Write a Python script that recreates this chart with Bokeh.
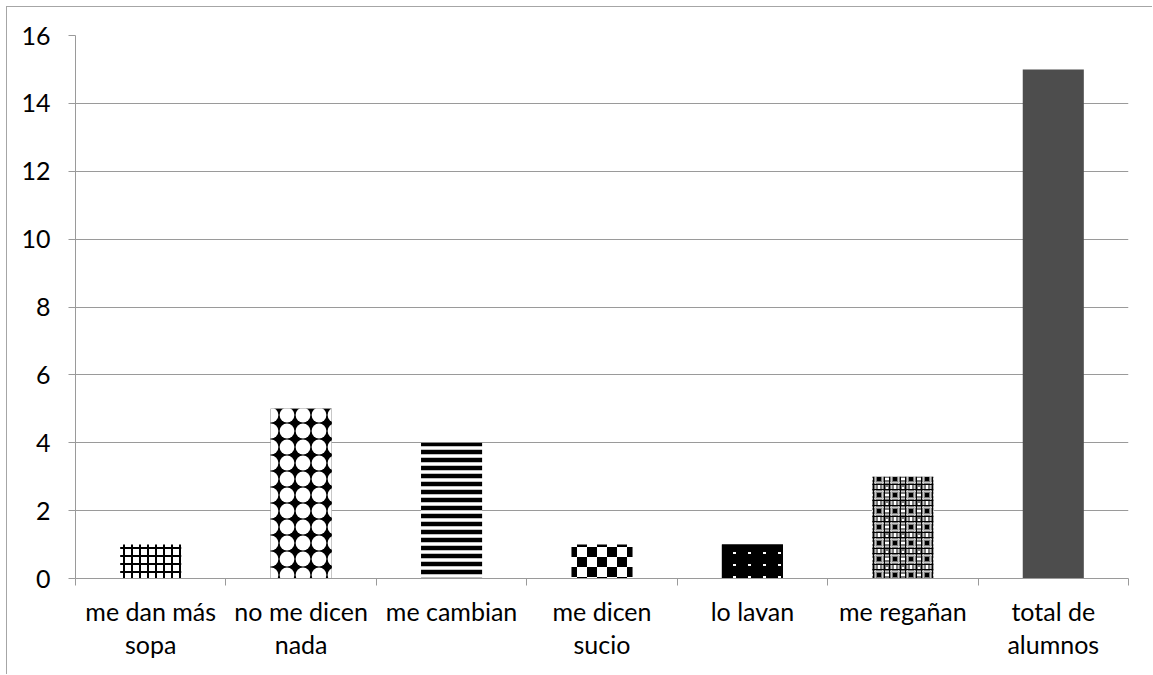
import base64
from bokeh.plotting import figure
from bokeh.models import FixedTicker, ImageURLTexture, ColumnDataSource
from bokeh.core.properties import value
from bokeh.embed import file_html
from bokeh.resources import INLINE

categories = ["me dan más sopa", "no me dicen nada", "me cambian", "me dicen sucio",
              "lo lavan", "me regañan", "total de alumnos"]
tick_labels = ["me dan más\nsopa", "no me dicen\nnada", "me cambian", "me dicen\nsucio",
               "lo lavan", "me regañan", "total de\nalumnos"]
values = [1, 5, 4, 1, 1, 3, 15]
y_ticks = [0, 2, 4, 6, 8, 10, 12, 14, 16]

FONT = "Lato"
GRID = "#9a9a9a"


def svg_tex(w, h, body):
    svg = (f'<svg xmlns="http://www.w3.org/2000/svg" width="{w}" height="{h}" '
           f'viewBox="0 0 {w} {h}" shape-rendering="crispEdges">{body}</svg>')
    return ImageURLTexture(url="data:image/svg+xml;base64," + base64.b64encode(svg.encode()).decode())


dots_big = svg_tex(16, 16, '<rect width="16" height="16" fill="#000"/>'
                           '<circle cx="8" cy="8" r="7.4" fill="#fff" shape-rendering="auto"/>')
checker = svg_tex(20, 20, '<rect width="20" height="20" fill="#fff"/>'
                          '<rect width="10" height="10" fill="#000"/>'
                          '<rect x="10" y="10" width="10" height="10" fill="#000"/>')
dots_small = svg_tex(15, 12, '<rect width="15" height="12" fill="#000"/>'
                             '<rect x="6" y="5" width="3" height="2" fill="#fff"/>')
weave = svg_tex(16, 16, '<rect width="16" height="16" fill="#7a7a7a"/>'
                        '<rect x="4" width="1" height="16" fill="#c8c8c8"/>'
                        '<rect x="11" width="1" height="16" fill="#c8c8c8"/>'
                        '<rect y="4" width="16" height="1" fill="#c8c8c8"/>'
                        '<rect y="11" width="16" height="1" fill="#c8c8c8"/>'
                        '<rect x="2" width="1" height="16" fill="#000"/>'
                        '<rect x="13" width="1" height="16" fill="#000"/>'
                        '<rect y="2" width="16" height="1" fill="#000"/>'
                        '<rect y="13" width="16" height="1" fill="#000"/>'
                        '<rect x="6" y="6" width="4" height="4" fill="#000"/>'
                        '<rect x="0" y="0" width="1" height="2" fill="#fff"/>'
                        '<rect x="15" y="0" width="1" height="2" fill="#fff"/>'
                        '<rect x="7" y="0" width="2" height="2" fill="#fff"/>'
                        '<rect x="0" y="7" width="2" height="2" fill="#fff"/>'
                        '<rect x="14" y="7" width="2" height="2" fill="#fff"/>'
                        '<rect x="7" y="14" width="2" height="2" fill="#fff"/>')

centers = [i + 0.5 for i in range(len(categories))]
bounds = [i for i in range(len(categories) + 1)]

p = figure(width=1146, height=668, output_backend="svg", toolbar_location=None,
           x_range=(0, len(categories)), y_range=(y_ticks[0], y_ticks[-1]),
           min_border_left=68, min_border_right=25, min_border_top=28, min_border_bottom=97)
p.outline_line_color = None
p.background_fill_color = "white"
p.border_fill_color = "white"
p.styles = {"margin-left": "6px", "margin-top": "6px",
            "border-top": "1px solid #a6a6a6", "border-left": "1px solid #a6a6a6"}

w = 0.406
styles = [
    dict(fill_color="white", hatch_pattern="cross", hatch_color="black", hatch_scale=8, hatch_weight=2),
    dict(fill_color="black", hatch_pattern=value("dotsbig"), hatch_extra={"dotsbig": dots_big}),
    dict(fill_color="white", hatch_pattern="horizontal_line", hatch_color="black", hatch_scale=8, hatch_weight=4.5),
    dict(fill_color="white", hatch_pattern=value("checker"), hatch_extra={"checker": checker}),
    dict(fill_color="black", hatch_pattern=value("dotssmall"), hatch_extra={"dotssmall": dots_small}),
    dict(fill_color="#808080", hatch_pattern=value("weave"), hatch_extra={"weave": weave}),
    dict(fill_color="#4d4d4d"),
]
for i, (c, v) in enumerate(zip(centers, values)):
    src = ColumnDataSource(data=dict(x=[c], top=[v], cat=[categories[i]]))
    p.vbar(x="x", top="top", bottom=0, width=w, source=src, line_color=None, **styles[i])

# grid
p.xgrid.grid_line_color = None
p.ygrid.grid_line_color = GRID
p.ygrid.grid_line_width = 1
p.ygrid.ticker = FixedTicker(ticks=y_ticks)

# y axis
p.yaxis.ticker = FixedTicker(ticks=y_ticks)
p.yaxis.axis_line_color = GRID
p.yaxis.major_tick_line_color = GRID
p.yaxis.major_tick_out = 7
p.yaxis.major_tick_in = 0
p.yaxis.minor_tick_line_color = None
p.yaxis.major_label_standoff = 18
p.yaxis.major_label_text_font = FONT
p.yaxis.major_label_text_font_size = "25px"
p.yaxis.major_label_text_color = "black"

# x axis
p.xaxis.ticker = FixedTicker(ticks=centers, minor_ticks=bounds)
p.xaxis.major_label_overrides = {c: t for c, t in zip(centers, tick_labels)}
p.xaxis.axis_line_color = GRID
p.xaxis.major_tick_line_color = None
p.xaxis.major_tick_out = 0
p.xaxis.major_tick_in = 0
p.xaxis.minor_tick_line_color = GRID
p.xaxis.minor_tick_out = 7
p.xaxis.minor_tick_in = 0
p.xaxis.major_label_standoff = 10
p.xaxis.major_label_text_font = FONT
p.xaxis.major_label_text_font_size = "25px"
p.xaxis.major_label_text_color = "black"
p.xaxis.major_label_text_line_height = 1.12

open("out.html", "w").write(file_html(p, INLINE))
